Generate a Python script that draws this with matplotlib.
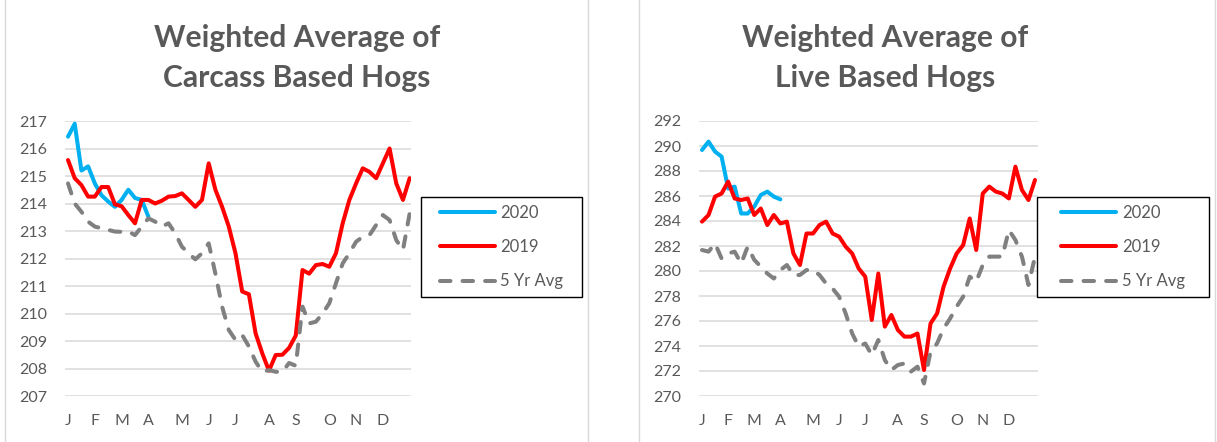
import matplotlib
matplotlib.use("Agg")
import matplotlib.pyplot as plt
from matplotlib.lines import Line2D
from matplotlib.patches import Rectangle
import numpy as np

# weekly values (52 weeks, 2020 only to early April)
carcass_2020 = [216.43, 216.9, 215.2, 215.35, 214.73, 214.3, 214.07, 213.88, 214.13, 214.5, 214.2, 214.13, 213.52]
carcass_2019 = [215.58, 214.92, 214.67, 214.25, 214.25, 214.6, 214.6, 213.97, 213.9, 213.58, 213.28, 214.13, 214.13,
                214.0, 214.1, 214.25, 214.27, 214.37, 214.13, 213.88, 214.13,
                215.46, 214.5, 213.88, 213.16, 212.19, 210.8, 210.7, 209.28, 208.55, 207.92,
                208.49, 208.5, 208.75, 209.2, 211.58, 211.45, 211.76, 211.8, 211.7, 212.19,
                213.28, 214.13, 214.73, 215.28, 215.15, 214.92, 215.46, 216.0, 214.73, 214.13, 214.92]
carcass_avg = [214.73, 214.0, 213.7, 213.34, 213.16, 213.1, 213.04, 212.98, 212.97, 212.98,
               212.85, 213.16, 213.46, 213.34, 213.16, 213.28, 212.92, 212.43, 212.19, 211.97,
               212.19, 212.55, 211.45, 210.25, 209.4, 209.04, 209.22, 208.8, 208.25, 207.88,
               207.94, 207.88, 207.88, 208.2, 208.1, 210.25, 209.64, 209.7, 210.0, 210.37,
               211.1, 211.82, 212.19, 212.61, 212.79, 212.85, 213.22, 213.58, 213.4, 212.67, 212.31, 213.64]

live_2020 = [289.68, 290.35, 289.55, 289.15, 286.6, 286.75, 284.6, 284.6, 285.15, 286.08, 286.35, 285.95, 285.73]
live_2019 = [283.95, 284.48, 285.95, 286.2, 287.15, 285.8, 285.68, 285.8, 284.48, 285.0,
             283.68, 284.48, 283.8, 283.95, 281.4, 280.48, 283.0, 283.0, 283.68, 283.95,
             283.0, 282.75, 281.95, 281.4, 280.2, 279.55, 276.08, 279.8, 275.55, 276.48,
             275.28, 274.75, 274.75, 275.0, 272.08, 275.8, 276.6, 278.75, 280.2, 281.4,
             282.08, 284.2, 281.68, 286.2, 286.75, 286.35, 286.2, 285.8, 288.35, 286.48, 285.68, 287.28]
live_avg = [281.68, 281.55, 282.2, 281.0, 281.4, 281.55, 280.6, 281.95, 280.9, 280.35,
            279.8, 279.4, 280.08, 280.48, 279.68, 279.68, 280.08, 280.08, 279.68, 279.0,
            278.6, 277.95, 276.6, 275.0, 273.95, 274.2, 273.28, 274.48, 272.88, 272.08,
            272.48, 272.6, 271.95, 272.35, 271.0, 273.55, 274.2, 275.4, 276.2, 277.15,
            277.95, 279.55, 279.15, 280.48, 281.15, 281.15, 281.15, 283.28, 282.48, 281.15, 278.88, 281.15]

month_weeks = [0, 4, 8, 12, 17, 21, 25, 30, 34, 39, 43, 47]
month_labels = ["J", "F", "M", "A", "M", "J", "J", "A", "S", "O", "N", "D"]
series_names = ["2020", "2019", "5 Yr Avg"]

W, H = 1217, 442
TXT = "#595959"
DASH = (0, (2.6, 3.0))
plt.rcParams["font.family"] = ["Lato", "DejaVu Sans"]

fig = plt.figure(figsize=(W / 100, H / 100), dpi=100)


def px_axes(l, t, r, b):
    return fig.add_axes([l / W, 1 - b / H, (r - l) / W, (b - t) / H])


def draw_panel(ax, s2020, s2019, savg, yticks, xlim):
    lw = 2.9
    ax.plot(np.arange(len(s2020)), s2020, color="#00B0F0", lw=lw, solid_joinstyle="round",
            solid_capstyle="round", zorder=3)
    ax.plot(np.arange(len(s2019)), s2019, color="#FF0000", lw=lw, solid_joinstyle="round",
            solid_capstyle="round", zorder=4)
    ax.plot(np.arange(len(savg)), savg, color="#808080", lw=lw, linestyle=DASH,
            dash_capstyle="round", dash_joinstyle="round", zorder=5)
    ax.set_xlim(*xlim)
    ax.set_ylim(yticks[0], yticks[-1])
    ax.set_yticks(yticks)
    ax.set_xticks(month_weeks)
    ax.set_xticklabels(month_labels)
    ax.tick_params(axis="y", length=0, pad=13, labelsize=11.5, labelcolor=TXT)
    ax.tick_params(axis="x", length=0, pad=13, labelsize=11.5, labelcolor=TXT)
    for sp in ax.spines.values():
        sp.set_visible(False)
    ax.grid(axis="y", color="#D9D9D9", lw=1.1)
    ax.set_axisbelow(True)


ax1 = px_axes(65, 121, 411, 396)
draw_panel(ax1, carcass_2020, carcass_2019, carcass_avg, list(range(207, 218)), (-0.45, 51.2))
ax2 = px_axes(699, 121, 1038, 396)
draw_panel(ax2, live_2020, live_2019, live_avg, list(range(270, 293, 2)), (-0.46, 51.46))

fig.text(297 / W, 1 - 58 / H, "Weighted Average of\nCarcass Based Hogs", ha="center", va="center",
         fontsize=21.6, fontweight="bold", color=TXT, linespacing=1.5)
fig.text(885 / W, 1 - 58 / H, "Weighted Average of\nLive Based Hogs", ha="center", va="center",
         fontsize=21.6, fontweight="bold", color=TXT, linespacing=1.5)

# legends: frame drawn by hand, entries centred inside
handles = [Line2D([], [], color="#00B0F0", lw=2.9, solid_capstyle="round"),
           Line2D([], [], color="#FF0000", lw=2.9, solid_capstyle="round"),
           Line2D([], [], color="#808080", lw=2.9, linestyle=DASH, dash_capstyle="round")]
for x0, x1 in ((421, 582), (1037, 1209)):
    y0, y1 = 197, 297
    fig.add_artist(Rectangle((x0 / W, 1 - y1 / H), (x1 - x0) / W, (y1 - y0) / H,
                             transform=fig.transFigure, facecolor="white", edgecolor="black", lw=1.0, zorder=6))
    leg = fig.legend(handles, series_names, loc="center", bbox_to_anchor=((x0 + x1) / 2 / W, 1 - (y0 + y1) / 2 / H),
                     bbox_transform=fig.transFigure, borderaxespad=0, borderpad=0, frameon=False,
                     fontsize=12, handlelength=3.3, labelspacing=1.1, handletextpad=0.35, labelcolor=TXT)
    leg.set_zorder(7)

# panel borders
for xb in (5, 588, 639, 1215):
    fig.add_artist(Line2D([xb / W, xb / W], [0, 1], transform=fig.transFigure, color="#D9D9D9", lw=1.0))

fig.savefig("out.png", dpi=100)
